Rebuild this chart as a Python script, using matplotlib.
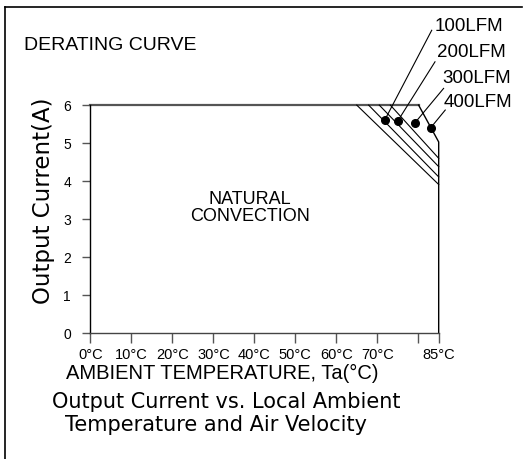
import matplotlib.pyplot as plt

plt.rcParams["font.family"] = ["Liberation Sans", "DejaVu Sans"]
WIDE = ["DejaVu Sans"]

# derating curve values
temp_ticks = [0, 10, 20, 30, 40, 50, 60, 70, 80, 85]
temp_labels = ["0°C", "10°C", "20°C", "30°C", "40°C", "50°C", "60°C", "70°C", "", "85°C"]
current_ticks = [0, 1, 2, 3, 4, 5, 6]

# outer envelope (top limit, 400LFM knee, right edge)
env_t = [0, 80.1, 85, 85]
env_i = [6, 6, 5.03, 0]

# hatched derating lines: start temp at 6A, current at 85°C
hatch_start = [65.0, 67.9, 70.5, 73.2]
hatch_end = [3.91, 4.11, 4.38, 4.6]

flow_labels = ["100LFM", "200LFM", "300LFM", "400LFM"]
dot_t = [71.9, 75.0, 79.1, 83.1]
dot_i = [5.62, 5.58, 5.52, 5.41]

fig = plt.figure(figsize=(5.26, 4.59), dpi=100)
ax = fig.add_axes([0.172, 0.2745, 0.662, 0.4965])
ax.set_xlim(0, 85)
ax.set_ylim(0, 6)

for s in ["top", "right"]:
    ax.spines[s].set_visible(False)
ax.spines["left"].set_linewidth(1.0)
ax.spines["bottom"].set_linewidth(1.0)
ax.spines["bottom"].set_color("#444444")

# top limit in grey, the rest black
ax.plot(env_t[:2], env_i[:2], color="#555555", lw=1.6, clip_on=False)
ax.plot(env_t[1:], env_i[1:], color="black", lw=1.0, clip_on=False)

for t0, i1 in zip(hatch_start, hatch_end):
    ax.plot([t0, 85], [6, i1], color="black", lw=0.8, clip_on=False)

ax.plot(dot_t, dot_i, "o", color="black", ms=5.5, clip_on=False)

# label anchors and leader end points (data coords)
lab_x = [84.1, 84.6, 85.9, 86.1]
lab_y = [8.08, 7.39, 6.71, 6.08]
lead_x = [83.3, 84.1, 86.2, 86.6]
lead_y = [7.97, 7.14, 6.44, 5.87]
for k, name in enumerate(flow_labels):
    ax.plot([dot_t[k], lead_x[k]], [dot_i[k], lead_y[k]], color="black", lw=0.8, clip_on=False)
    ax.text(lab_x[k], lab_y[k], name, ha="left", va="center", fontsize=13.5, clip_on=False)

ax.text(39, 3.29, "NATURAL\nCONVECTION", ha="center", va="center", fontsize=13, linespacing=1.05)

ax.set_xticks(temp_ticks)
ax.set_xticklabels(temp_labels, fontsize=10.5)
ax.set_yticks(current_ticks)
ax.set_yticklabels([str(v) for v in current_ticks], fontsize=10)
ax.tick_params(axis="x", direction="out", length=7, width=1, color="#555555", pad=4)
ax.tick_params(axis="y", direction="out", length=6, width=1, color="#555555", pad=8)

fig.text(24 / 526, 1 - 46 / 459, "DERATING CURVE", ha="left", va="center", fontsize=14)
fig.text(44 / 526, 1 - 201 / 459, "Output Current(A)", rotation=90, ha="center", va="center",
         fontsize=16.5, family=WIDE)
fig.text(222 / 526, 1 - 373 / 459, "AMBIENT TEMPERATURE, Ta(°C)", ha="center", va="center", fontsize=14.5)
fig.text(226 / 526, 1 - 402 / 459, "Output Current vs. Local Ambient", ha="center", va="center",
         fontsize=15, family=WIDE)
fig.text(216 / 526, 1 - 425 / 459, "Temperature and Air Velocity", ha="center", va="center",
         fontsize=15, family=WIDE)

# drawing frame (left and top edges)
fig.add_artist(plt.Line2D([5 / 526, 5 / 526], [0, 1 - 7 / 459], color="black", lw=1.2))
fig.add_artist(plt.Line2D([5 / 526, 522 / 526], [1 - 7 / 459, 1 - 7 / 459], color="black", lw=1.2))

fig.savefig("out.png", dpi=100)
